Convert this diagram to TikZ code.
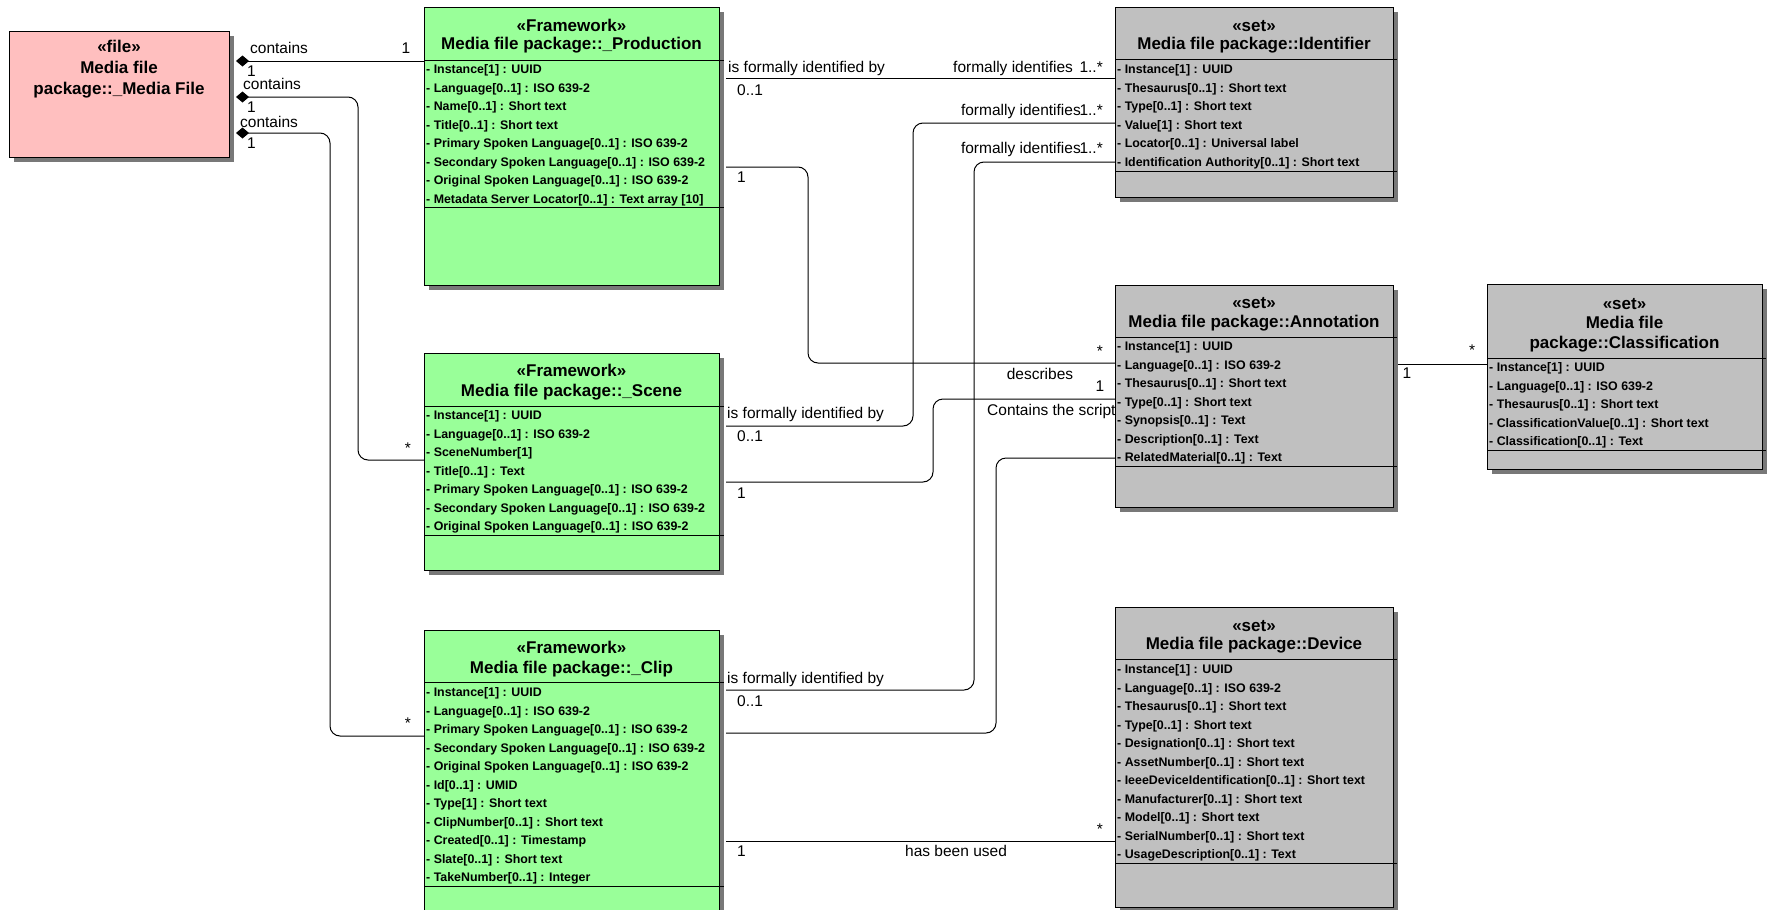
\documentclass[tikz,border=0pt]{standalone}
\usepackage{fontspec}
\setmainfont{Liberation Sans}
\usetikzlibrary{arrows.meta,shadows,calc}
\pgfdeclarelayer{bg}
\pgfsetlayers{bg,main}
\definecolor{mfpink}{RGB}{255,191,191}
\definecolor{fwgreen}{RGB}{153,255,153}
\definecolor{setgray}{RGB}{192,192,192}
\definecolor{shadowgray}{RGB}{120,120,120}
\begin{document}
\begin{tikzpicture}[x=1pt,y=-1pt,
  box/.style={draw=black, line width=1pt, anchor=north west, inner sep=0pt,
    drop shadow={shadow xshift=4pt, shadow yshift=-4pt, fill=shadowgray, opacity=1}},
  ttl/.style={font=\bfseries\fontsize{17}{19}\selectfont, inner sep=0pt, text height=12.2pt, text depth=0pt},
  attrs/.style={font=\bfseries\fontsize{12.4}{18.5}\selectfont, inner sep=0pt, anchor=north west, align=left},
  lbl/.style={font=\fontsize{15.5}{18}\selectfont, inner sep=0pt, text height=11pt, text depth=0pt},
  conn/.style={line width=1pt, rounded corners=10pt},
  comp/.style={conn, {Diamond[length=13pt,width=11pt]}-},
  sep/.style={line width=1pt}
]
\useasboundingbox (0,0) rectangle (1767,910);

% ---------- boxes ----------
\node[box, fill=mfpink, minimum width=220pt, minimum height=126pt] (mf) at (9,31) {};
\node[box, fill=fwgreen, minimum width=295pt, minimum height=278pt] (prod) at (424,7) {};
\node[box, fill=fwgreen, minimum width=295pt, minimum height=217pt] (scene) at (424,353) {};
\node[box, fill=fwgreen, minimum width=295pt, minimum height=300pt] (clip) at (424,630) {};
\node[box, fill=setgray, minimum width=278pt, minimum height=190pt] (ident) at (1115,7) {};
\node[box, fill=setgray, minimum width=278pt, minimum height=222pt] (annot) at (1115,285) {};
\node[box, fill=setgray, minimum width=275pt, minimum height=185pt] (class) at (1487,284) {};
\node[box, fill=setgray, minimum width=278pt, minimum height=300pt] (device) at (1115,607) {};

% separators
\draw[sep] ($(prod.north west)+(0,53)$) -- ++(300,0);
\draw[sep] ($(prod.north west)+(0,200)$) -- ++(300,0);
\draw[sep] ($(scene.north west)+(0,53)$) -- ++(300,0);
\draw[sep] ($(scene.north west)+(0,182)$) -- ++(300,0);
\draw[sep] ($(clip.north west)+(0,52)$) -- ++(300,0);
\draw[sep] ($(clip.north west)+(0,256)$) -- ++(300,0);
\draw[sep] ($(ident.north west)+(0,52)$) -- ++(282,0);
\draw[sep] ($(ident.north west)+(0,164)$) -- ++(282,0);
\draw[sep] ($(annot.north west)+(0,52)$) -- ++(282,0);
\draw[sep] ($(annot.north west)+(0,181)$) -- ++(282,0);
\draw[sep] ($(class.north west)+(0,74)$) -- ++(279,0);
\draw[sep] ($(class.north west)+(0,166)$) -- ++(279,0);
\draw[sep] ($(device.north west)+(0,52)$) -- ++(282,0);
\draw[sep] ($(device.north west)+(0,256)$) -- ++(282,0);

% titles
\node[ttl] (mf-st) at (119,46) {«file»};
\node[ttl] (mf-n1) at (119,67) {Media file};
\node[ttl] (mf-n2) at (119,88) {package::\_Media File};

\node[ttl] (prod-st) at (571.5,25) {«Framework»};
\node[ttl] (prod-n) at (571.5,43) {Media file package::\_Production};
\node[ttl] (scene-st) at (571.5,370) {«Framework»};
\node[ttl] (scene-n) at (571.5,390) {Media file package::\_Scene};
\node[ttl] (clip-st) at (571.5,647) {«Framework»};
\node[ttl] (clip-n) at (571.5,667) {Media file package::\_Clip};

\node[ttl] (ident-st) at (1254,25) {«set»};
\node[ttl] (ident-n) at (1254,43) {Media file package::Identifier};
\node[ttl] (annot-st) at (1254,302) {«set»};
\node[ttl] (annot-n) at (1254,321) {Media file package::Annotation};
\node[ttl] (class-st) at (1624.5,303) {«set»};
\node[ttl] (class-n1) at (1624.5,322) {Media file};
\node[ttl] (class-n2) at (1624.5,342) {package::Classification};
\node[ttl] (device-st) at (1254,625) {«set»};
\node[ttl] (device-n) at (1254,643) {Media file package::Device};

% attributes
\node[attrs] (prod-a) at (426,63.5) {\rule{0pt}{10pt}- Instance[1] : UUID\\- Language[0..1] : ISO 639-2\\- Name[0..1] : Short text\\- Title[0..1] : Short text\\- Primary Spoken Language[0..1] : ISO 639-2\\- Secondary Spoken Language[0..1] : ISO 639-2\\- Original Spoken Language[0..1] : ISO 639-2\\- Metadata Server Locator[0..1] : Text array [10]};
\node[attrs] (scene-a) at (426,409.5) {\rule{0pt}{10pt}- Instance[1] : UUID\\- Language[0..1] : ISO 639-2\\- SceneNumber[1]\\- Title[0..1] : Text\\- Primary Spoken Language[0..1] : ISO 639-2\\- Secondary Spoken Language[0..1] : ISO 639-2\\- Original Spoken Language[0..1] : ISO 639-2};
\node[attrs] (clip-a) at (426,686.5) {\rule{0pt}{10pt}- Instance[1] : UUID\\- Language[0..1] : ISO 639-2\\- Primary Spoken Language[0..1] : ISO 639-2\\- Secondary Spoken Language[0..1] : ISO 639-2\\- Original Spoken Language[0..1] : ISO 639-2\\- Id[0..1] : UMID\\- Type[1] : Short text\\- ClipNumber[0..1] : Short text\\- Created[0..1] : Timestamp\\- Slate[0..1] : Short text\\- TakeNumber[0..1] : Integer};
\node[attrs] (ident-a) at (1117,63.5) {\rule{0pt}{10pt}- Instance[1] : UUID\\- Thesaurus[0..1] : Short text\\- Type[0..1] : Short text\\- Value[1] : Short text\\- Locator[0..1] : Universal label\\- Identification Authority[0..1] : Short text};
\node[attrs] (annot-a) at (1117,340.5) {\rule{0pt}{10pt}- Instance[1] : UUID\\- Language[0..1] : ISO 639-2\\- Thesaurus[0..1] : Short text\\- Type[0..1] : Short text\\- Synopsis[0..1] : Text\\- Description[0..1] : Text\\- RelatedMaterial[0..1] : Text};
\node[attrs] (class-a) at (1489,361.5) {\rule{0pt}{10pt}- Instance[1] : UUID\\- Language[0..1] : ISO 639-2\\- Thesaurus[0..1] : Short text\\- ClassificationValue[0..1] : Short text\\- Classification[0..1] : Text};
\node[attrs] (device-a) at (1117,663.5) {\rule{0pt}{10pt}- Instance[1] : UUID\\- Language[0..1] : ISO 639-2\\- Thesaurus[0..1] : Short text\\- Type[0..1] : Short text\\- Designation[0..1] : Short text\\- AssetNumber[0..1] : Short text\\- IeeeDeviceIdentification[0..1] : Short text\\- Manufacturer[0..1] : Short text\\- Model[0..1] : Short text\\- SerialNumber[0..1] : Short text\\- UsageDescription[0..1] : Text};

% ---------- connectors ----------
\coordinate (mfR) at ($(mf.north east)+(6,0)$);
\coordinate (prodR) at ($(prod.north east)+(6,0)$);
\coordinate (sceneR) at ($(scene.north east)+(6,0)$);
\coordinate (clipR) at ($(clip.north east)+(6,0)$);
\coordinate (annotR) at ($(annot.north east)+(4,0)$);

\begin{pgfonlayer}{bg}
\draw[comp] (mfR |- 0,61) -- (prod.west |- 0,61);
\draw[comp] (mfR |- 0,97) -- (358,97) -- (358,460) -- (scene.west |- 0,460);
\draw[comp] (mfR |- 0,133) -- (330,133) -- (330,736) -- (clip.west |- 0,736);
\draw[conn] (prodR |- 0,78) -- (ident.west |- 0,78);
\draw[conn] (sceneR |- 0,426) -- (913,426) -- (913,123) -- (ident.west |- 0,123);
\draw[conn] (clipR |- 0,690) -- (974,690) -- (974,162) -- (ident.west |- 0,162);
\draw[conn] (prodR |- 0,167) -- (808,167) -- (808,363) -- (annot.west |- 0,363);
\draw[conn] (sceneR |- 0,482) -- (933,482) -- (933,399) -- (annot.west |- 0,399);
\draw[conn] (clipR |- 0,733) -- (996,733) -- (996,458) -- (annot.west |- 0,458);
\draw[conn] (clipR |- 0,841) -- (device.west |- 0,841);
\draw[conn] (annotR |- 0,364) -- (class.west |- 0,364);

% labels
\node[lbl, anchor=west] (l1) at (250,48) {contains};
\node[lbl] (l2) at (406,48) {1};
\node[lbl, anchor=west] (l3) at (247,71) {1};
\node[lbl, anchor=west] (l4) at (243,84) {contains};
\node[lbl, anchor=west] (l5) at (247,107) {1};
\node[lbl] (l6) at (408,448) {*};
\node[lbl, anchor=west] (l7) at (240,122) {contains};
\node[lbl, anchor=west] (l8) at (247,143) {1};
\node[lbl] (l9) at (408,723) {*};

\node[lbl, anchor=west] (l10) at (728,67) {is formally identified by};
\node[lbl, anchor=west] (l11) at (953,67) {formally identifies};
\node[lbl, anchor=east] (l12) at (1103,67) {1..*};
\node[lbl, anchor=west] (l13) at (737,90) {0..1};
\node[lbl, anchor=east] (l14) at (1081,110) {formally identifies};
\node[lbl, anchor=east] (l15) at (1103,110) {1..*};
\node[lbl, anchor=east] (l16) at (1081,148) {formally identifies};
\node[lbl, anchor=east] (l17) at (1103,148) {1..*};

\node[lbl, anchor=west] (l18) at (737,177) {1};
\node[lbl] (l19) at (1100,350.5) {*};
\node[lbl] (l20) at (1040,374) {describes};
\node[lbl] (l21) at (1100,386) {1};
\node[lbl, anchor=west] (l22) at (987,410) {Contains the script};

\node[lbl, anchor=west] (l23) at (727,413) {is formally identified by};
\node[lbl, anchor=west] (l24) at (737,436) {0..1};
\node[lbl, anchor=west] (l25) at (737,493) {1};

\node[lbl, anchor=west] (l26) at (727,678) {is formally identified by};
\node[lbl, anchor=west] (l27) at (737,701) {0..1};

\node[lbl, anchor=west] (l28) at (737,851) {1};
\node[lbl, anchor=west] (l29) at (905,851) {has been used};
\node[lbl] (l30) at (1100,828.5) {*};

\node[lbl] (l31) at (1407,373) {1};
\node[lbl] (l32) at (1472,349.5) {*};
\end{pgfonlayer}
\end{tikzpicture}
\end{document}
